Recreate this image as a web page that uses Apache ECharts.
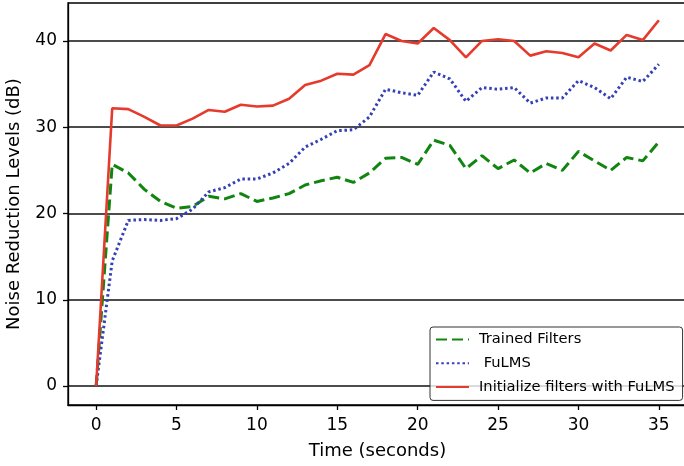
<!DOCTYPE html>
<html>
<head>
<meta charset="utf-8">
<script src="https://cdn.jsdelivr.net/npm/echarts@6/dist/echarts.min.js"></script>
<style>
  html, body { margin: 0; padding: 0; background: #fff; }
  #container { width: 684px; height: 466px; }
</style>
</head>
<body>
<div id="container"></div>
<script>
var dom = document.getElementById("container");
var myChart = echarts.init(dom);

// time in seconds
var times = [0, 1, 2, 3, 4, 5, 6, 7, 8, 9, 10, 11, 12, 13, 14, 15, 16, 17,
  18, 19, 20, 21, 22, 23, 24, 25, 26, 27, 28, 29, 30, 31, 32, 33, 34, 35];

var trained = [0, 25.7, 24.7, 22.8, 21.4, 20.6, 20.8, 22.0, 21.7, 22.3, 21.4, 21.8,
  22.3, 23.3, 23.8, 24.2, 23.6, 24.7, 26.4, 26.5, 25.7, 28.5, 27.9, 25.2,
  26.7, 25.2, 26.2, 24.7, 25.8, 25.0, 27.2, 26.1, 25.0, 26.5, 26.1, 28.3];

var fulms = [0, 14.5, 19.2, 19.3, 19.2, 19.4, 20.5, 22.5, 23.0, 24.0, 24.0, 24.7,
  25.8, 27.7, 28.6, 29.6, 29.7, 31.2, 34.4, 34.0, 33.7, 36.4, 35.6, 33.0,
  34.6, 34.4, 34.6, 32.8, 33.4, 33.4, 35.4, 34.6, 33.3, 35.8, 35.3, 37.3];

var initFulms = [0, 32.2, 32.1, 31.2, 30.2, 30.2, 31.0, 32.0, 31.8, 32.6, 32.4, 32.5,
  33.3, 34.9, 35.4, 36.2, 36.1, 37.2, 40.8, 40.0, 39.7, 41.5, 40.1, 38.1,
  40.0, 40.2, 40.0, 38.3, 38.8, 38.6, 38.1, 39.7, 38.9, 40.7, 40.1, 42.4];

var xTicks = [0, 5, 10, 15, 20, 25, 30, 35];
var yTicks = [0, 10, 20, 30, 40];

function pairs(vals) {
  return times.map(function (t, i) { return [t, vals[i]]; });
}

var font = 'DejaVu Sans';

var option = {
  animation: false,
  textStyle: { fontFamily: font },
  grid: {
    left: 68,
    top: 3,
    width: 619,
    height: 402,
    outerBoundsMode: 'none',
    containLabel: false,
    show: true,
    borderColor: '#000',
    borderWidth: 1.3
  },
  legend: {
    orient: 'vertical',
    left: 430,
    top: 327,
    padding: [5, 8, 6, 5],
    itemWidth: 33,
    itemHeight: 14,
    itemGap: 8.7,
    borderColor: '#333',
    borderWidth: 1,
    borderRadius: 3,
    backgroundColor: 'rgba(255,255,255,0.8)',
    itemStyle: { opacity: 0, borderWidth: 0 },
    textStyle: { fontFamily: font, fontSize: 14.7, color: '#000', padding: [0, 0, 0, 5] },
    data: ['Trained Filters', ' FuLMS', 'Initialize filters with FuLMS']
  },
  xAxis: {
    type: 'value',
    min: -1.75,
    max: 36.75,
    name: 'Time (seconds)',
    nameLocation: 'middle',
    nameGap: 37,
    nameTextStyle: { fontFamily: font, fontSize: 18, color: '#000' },
    axisLine: { show: true, onZero: false, lineStyle: { color: '#000', width: 1.3 } },
    axisTick: { show: true, inside: false, length: 5, customValues: xTicks, lineStyle: { color: '#000', width: 1.3 } },
    axisLabel: { customValues: xTicks, fontFamily: font, fontSize: 17, color: '#000', margin: 12 },
    splitLine: { show: false }
  },
  yAxis: {
    type: 'value',
    min: -2.2,
    max: 44.4,
    name: 'Noise Reduction Levels (dB)',
    nameLocation: 'middle',
    nameGap: 45,
    nameTextStyle: { fontFamily: font, fontSize: 18, color: '#000' },
    axisLine: { show: true, onZero: false, lineStyle: { color: '#000', width: 1.3 } },
    axisTick: { show: true, inside: false, length: 5, customValues: yTicks, lineStyle: { color: '#000', width: 1.3 } },
    axisLabel: { customValues: yTicks, fontFamily: font, fontSize: 17, color: '#000', margin: 11 },
    splitLine: { show: true, lineStyle: { color: '#111', width: 1.5 } }
  },
  series: [
    {
      name: 'Trained Filters',
      type: 'line',
      data: pairs(trained),
      symbol: 'none',
      z: 3,
      lineStyle: { color: '#108510', width: 3, type: [11, 5] },
      itemStyle: { color: '#108510' }
    },
    {
      name: ' FuLMS',
      type: 'line',
      data: pairs(fulms),
      symbol: 'none',
      z: 4,
      lineStyle: { color: '#3540b5', width: 3, type: [2.5, 2.8] },
      itemStyle: { color: '#3540b5' }
    },
    {
      name: 'Initialize filters with FuLMS',
      type: 'line',
      data: pairs(initFulms),
      symbol: 'none',
      z: 5,
      lineStyle: { color: '#e53a2c', width: 2.6 },
      itemStyle: { color: '#e53a2c' }
    }
  ]
};

myChart.setOption(option);
</script>
</body>
</html>
